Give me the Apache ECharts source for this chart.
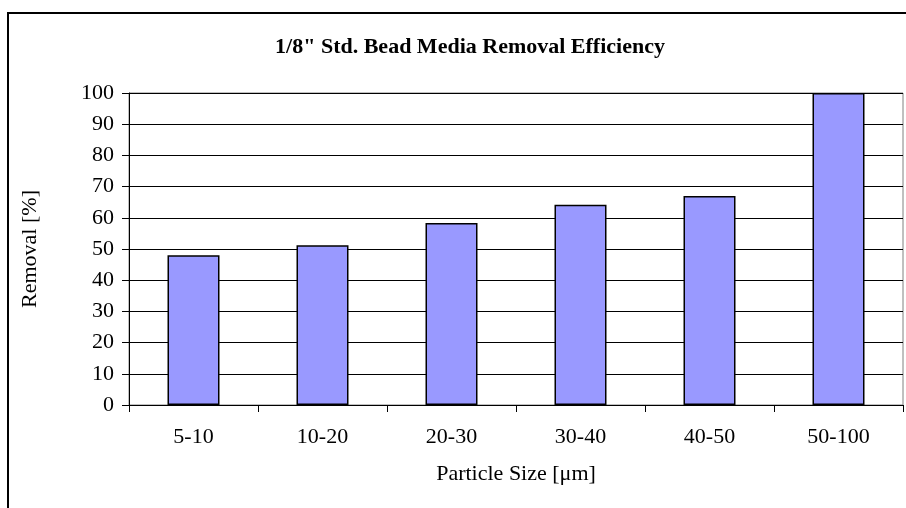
<!DOCTYPE html>
<html>
<head>
<meta charset="utf-8">
<script src="https://cdn.jsdelivr.net/npm/echarts@6/dist/echarts.min.js"></script>
<style>html,body{margin:0;padding:0;background:#fff}#c{width:906px;height:508px}</style>
</head>
<body>
<div id="c"></div>
<script>
const categories = ['5-10', '10-20', '20-30', '30-40', '40-50', '50-100'];
const removal = [48.0, 51.2, 58.3, 64.2, 67.0, 100];
const titleText = '1/8" Std. Bead Media Removal Efficiency';
const xName = 'Particle Size [\u03bcm]';
const yName = 'Removal [%]';

const font = 'Liberation Serif, Times New Roman, serif';
const chart = echarts.init(document.getElementById('c'));
chart.setOption({
  animation: false,
  backgroundColor: '#fff',
  title: {
    text: titleText,
    left: 465, top: 31, textAlign: 'center',
    textStyle: { fontFamily: font, fontSize: 22, fontWeight: 'bold', color: '#000' }
  },
  graphic: [{
    type: 'rect', shape: { x: 8, y: 13, width: 940, height: 520 },
    style: { fill: null, stroke: '#000', lineWidth: 2 }, silent: true
  }],
  grid: { left: 129, top: 93, right: 3, bottom: 103, show: true, borderColor: '#808080', borderWidth: 1, backgroundColor: 'transparent' },
  xAxis: {
    type: 'category', data: categories,
    name: xName, nameLocation: 'middle', nameGap: 58,
    nameTextStyle: { fontFamily: font, fontSize: 22, color: '#000' },
    axisLine: { lineStyle: { color: '#000', width: 1 } },
    axisTick: { show: true, length: 7, lineStyle: { color: '#000' } },
    axisLabel: { fontFamily: font, fontSize: 22, color: '#000', margin: 21 }
  },
  yAxis: {
    type: 'value', min: 0, max: 100, interval: 10,
    name: yName, nameLocation: 'middle', nameGap: 88,
    nameTextStyle: { fontFamily: font, fontSize: 22, color: '#000' },
    axisLine: { show: true, lineStyle: { color: '#000', width: 1 } },
    axisTick: { show: true, length: 7, lineStyle: { color: '#000' } },
    axisLabel: { fontFamily: font, fontSize: 22, color: '#000', margin: 15 },
    splitLine: { show: true, lineStyle: { color: '#000', width: 1 } }
  },
  series: [{
    type: 'bar', data: removal, barWidth: 52,
    itemStyle: { color: '#9999FF', borderColor: '#000', borderWidth: 1.5 }
  }]
});
</script>
</body>
</html>
